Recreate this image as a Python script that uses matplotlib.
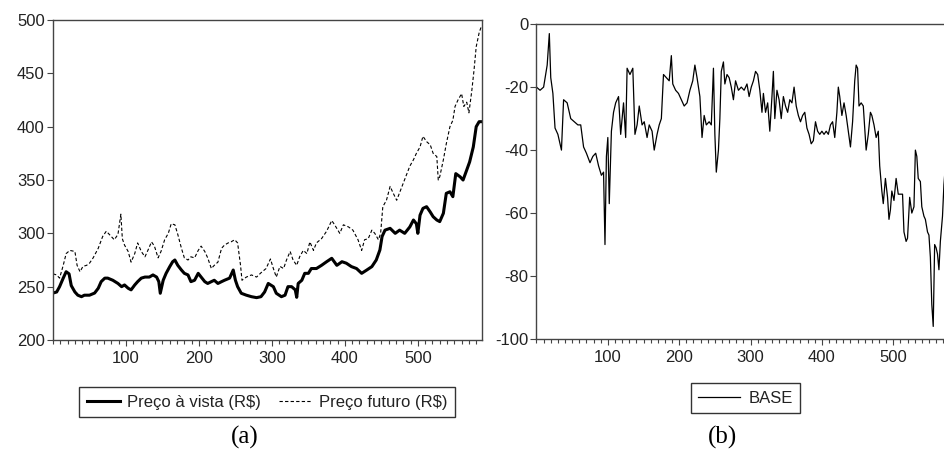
import matplotlib
matplotlib.use("Agg")
import matplotlib.pyplot as plt
from matplotlib.ticker import MultipleLocator

plt.rcParams['font.family'] = ['Liberation Sans', 'DejaVu Sans']
plt.rcParams['axes.unicode_minus'] = False

# spot price (R$)
vista_obs = [0, 5, 9, 14, 18, 22, 25, 30, 34, 39, 43, 50, 57, 62, 66, 71, 75, 82, 89, 94,
             98, 103, 107, 112, 116, 121, 126, 132, 137, 142, 145, 147, 151, 155, 160, 164, 167, 171, 176, 180,
             185, 189, 194, 199, 203, 208, 212, 217, 221, 226, 231, 235, 242, 247, 250, 253, 258, 265, 272, 279,
             285, 290, 295, 302, 306, 313, 318, 322, 327, 332, 334, 336, 341, 345, 350, 354, 361, 368, 375, 382,
             389, 396, 402, 409, 416, 423, 430, 437, 443, 448, 451, 455, 462, 469, 475, 482, 489, 494, 498, 500,
             503, 507, 512, 517, 521, 526, 530, 535, 539, 544, 548, 552, 558, 562, 567, 571, 576, 580, 584, 587]
vista = [244, 245, 250, 258, 264, 262, 251, 245, 242, 240.6, 242, 242, 244, 248.5, 254.7, 258, 258, 256, 253, 250,
         251.6, 248.5, 247, 251.6, 254.7, 258, 259, 259, 261, 259, 254.7, 243.8, 256, 262.5, 268.8, 273.4, 275, 270, 265.6, 262.5,
         261, 254.7, 256, 262.5, 259, 254.7, 253, 254.7, 256, 253, 254.7, 256, 258, 265.6, 256, 250, 243.8, 242, 240.6, 239.7,
         240.6, 245, 253, 250, 243.8, 240.6, 242, 250, 250, 247, 240, 253, 256, 262.5, 262.5, 267, 267, 270, 273.4, 276.6,
         270, 273.4, 272, 268.8, 267, 262.5, 265.6, 268.8, 275, 284.4, 297, 303, 304.7, 300, 303, 300, 306, 312.5, 309, 300,
         317, 323.4, 325, 320, 315.6, 312.5, 311, 318.8, 337.5, 339, 334.4, 356, 353, 350, 359.4, 367, 381, 400, 404.7, 404.7]

# futures price (R$)
futuro_obs = [0, 5, 9, 14, 18, 23, 30, 33, 37, 41, 46, 50, 55, 62, 68, 73, 80, 84, 89, 93,
              95, 98, 103, 107, 112, 116, 121, 126, 130, 135, 139, 144, 148, 153, 158, 162, 167, 171, 176, 180,
              185, 189, 194, 199, 203, 208, 212, 217, 221, 226, 231, 235, 240, 244, 249, 253, 257, 259, 265, 272,
              279, 285, 292, 298, 302, 306, 311, 316, 320, 325, 329, 334, 338, 343, 348, 352, 357, 361, 368, 375,
              382, 386, 393, 398, 405, 411, 418, 423, 427, 432, 437, 441, 446, 449, 452, 457, 462, 466, 471, 475,
              480, 485, 489, 494, 498, 503, 507, 512, 517, 521, 526, 528, 530, 535, 539, 544, 548, 551, 555, 560,
              563, 567, 570, 574, 577, 580, 584, 587]
futuro = [262, 261, 258, 270, 281, 284, 283, 270, 264, 269, 270, 272, 277, 286, 297, 302, 297, 294, 299, 318,
          295, 289, 283, 273, 281, 291, 283, 278, 284, 292, 288, 277, 283, 294, 300, 309, 308, 299, 286, 277,
          275, 278, 277, 284, 288, 283, 277, 267, 270, 273, 286, 289, 291, 292, 294, 291, 270, 256, 259, 261,
          259, 263, 267, 276, 267, 259, 269, 267, 275, 283, 275, 270, 278, 284, 281, 292, 284, 291, 295, 302,
          312, 308, 300, 308, 306, 303, 294, 284, 294, 295, 303, 300, 294, 300, 325, 331, 344, 338, 331, 338,
          347, 356, 363, 369, 375, 381, 391, 386, 383, 375, 372, 350, 353, 369, 384, 400, 406, 419, 425, 431,
          419, 423, 413, 434, 453, 475, 488, 494]

# basis
base_obs = [0, 5, 10, 15, 18, 20, 23, 26, 30, 35, 38, 43, 48, 53, 58, 62, 66, 70, 75, 79,
            83, 87, 91, 94, 96, 98, 100, 102, 105, 108, 111, 115, 118, 122, 125, 127, 131, 135, 138, 141,
            144, 148, 151, 155, 158, 162, 165, 169, 172, 175, 178, 182, 186, 189, 191, 195, 199, 203, 207, 211,
            215, 219, 222, 225, 229, 232, 235, 238, 242, 245, 248, 250, 252, 255, 257, 259, 262, 264, 267, 270,
            273, 276, 279, 283, 287, 291, 295, 298, 301, 304, 307, 310, 313, 316, 318, 321, 324, 327, 330, 332,
            334, 337, 340, 343, 346, 349, 352, 355, 358, 361, 364, 367, 370, 373, 376, 379, 382, 385, 388, 391,
            394, 397, 400, 403, 406, 409, 412, 415, 418, 421, 423, 425, 428, 431, 434, 437, 440, 443, 446, 448,
            450, 452, 455, 458, 460, 462, 465, 468, 470, 473, 476, 479, 481, 484, 486, 489, 492, 494, 496, 498,
            501, 504, 507, 510, 513, 515, 518, 520, 523, 526, 529, 531, 533, 535, 538, 540, 543, 545, 548, 550,
            552, 554, 556, 558, 560, 562, 564, 566, 569, 571, 573]
base = [-20, -21, -20, -13, -3, -17, -22, -33, -35, -40, -24, -25, -30, -31, -32, -32, -39, -41, -44, -42,
        -41, -45, -48, -47, -70, -42, -36, -57, -34, -28, -25, -23, -35, -25, -36, -14, -16, -14, -35, -32,
        -26, -32, -31, -36, -32, -34, -40, -35, -32, -30, -16, -17, -18, -10, -19, -21, -22, -24, -26, -25,
        -21, -18, -13, -17, -23, -36, -29, -32, -31, -32, -14, -35, -47, -40, -30, -15, -12, -19, -16, -17,
        -20, -24, -18, -21, -20, -21, -19, -23, -20, -18, -15, -16, -21, -28, -22, -28, -25, -34, -23, -15,
        -30, -21, -24, -30, -23, -26, -28, -24, -25, -20, -26, -29, -31, -29, -28, -33, -35, -38, -37, -31,
        -34, -35, -34, -35, -34, -35, -32, -31, -36, -28, -20, -23, -29, -25, -29, -34, -39, -31, -18, -13,
        -14, -26, -25, -26, -33, -40, -35, -28, -29, -32, -36, -34, -45, -53, -57, -49, -55, -62, -59, -53,
        -56, -49, -54, -54, -54, -66, -69, -68, -55, -60, -58, -40, -42, -49, -50, -58, -61, -62, -66, -67,
        -74, -89, -96, -70, -71, -73, -78, -69, -61, -51, -45]

n_obs = 588
ink = '#222222'


def style_axes(ax, yticks):
    for s in ax.spines.values():
        s.set_color('#444444')
        s.set_linewidth(1.0)
    ax.set_xlim(0, n_obs)
    ax.set_yticks(yticks)
    ax.set_ylim(yticks[0], yticks[-1])
    ax.xaxis.set_major_locator(MultipleLocator(100))
    ax.xaxis.set_minor_locator(MultipleLocator(10))
    ax.tick_params(axis='both', which='major', direction='out', length=4, width=0.8,
                   labelsize=12, labelcolor=ink, color='#444444')
    ax.tick_params(axis='x', which='minor', direction='out', length=2.6, width=0.8, color='#444444')
    ax.tick_params(axis='x', pad=4)
    ax.tick_params(axis='y', pad=2)
    ax.set_xticks([100, 200, 300, 400, 500])


fig = plt.figure(figsize=(9.45, 4.59), dpi=100)

ax1 = fig.add_axes([0.0561, 0.2593, 0.454, 0.697])
ax1.plot(vista_obs, vista, color='black', lw=2.2, label='Preço à vista (R$)')
ax1.plot(futuro_obs, futuro, color='black', lw=0.8, ls=(0, (3, 2)), label='Preço futuro (R$)')
style_axes(ax1, [200, 250, 300, 350, 400, 450, 500])
ax1.legend(loc='center', bbox_to_anchor=(0.2825, 0.124), bbox_transform=fig.transFigure,
           ncol=2, fontsize=12, frameon=True, fancybox=False, edgecolor='black',
           handlelength=2.0, handletextpad=0.4, columnspacing=1.1, borderpad=0.45)

ax2 = fig.add_axes([0.5677, 0.2614, 0.444, 0.686])
ax2.plot(base_obs, base, color='black', lw=0.9, label='BASE')
style_axes(ax2, [-100, -80, -60, -40, -20, 0])
ax2.legend(loc='center', bbox_to_anchor=(0.789, 0.132), bbox_transform=fig.transFigure,
           fontsize=12, frameon=True, fancybox=False, edgecolor='black',
           handlelength=2.5, handletextpad=0.5, borderpad=0.45)

for leg in (ax1.get_legend(), ax2.get_legend()):
    leg.get_frame().set_linewidth(1.0)
    for t in leg.get_texts():
        t.set_color(ink)

fig.text(0.259, 0.046, '(a)', ha='center', va='center', fontsize=18,
         family=['Liberation Serif', 'DejaVu Serif'])
fig.text(0.765, 0.046, '(b)', ha='center', va='center', fontsize=18,
         family=['Liberation Serif', 'DejaVu Serif'])

fig.savefig('out.png', dpi=100)
